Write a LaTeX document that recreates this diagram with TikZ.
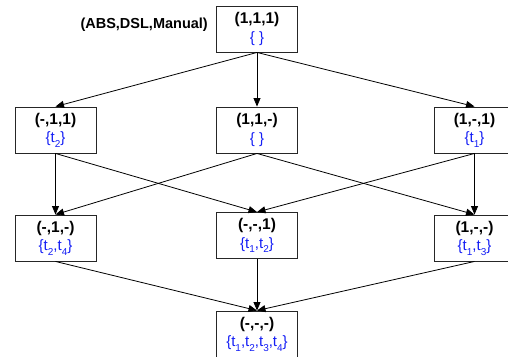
\documentclass[tikz,border=0pt]{standalone}
\usepackage{fontspec}
\setmainfont{Liberation Sans}
\usetikzlibrary{arrows.meta}
\definecolor{setblue}{RGB}{20,30,245}
% lowered small index for the set elements
\newcommand\ix[1]{\raisebox{-4.5pt}{\fontsize{10}{10}\selectfont #1}}
\newcommand\lat[2]{{\fontsize{15.5}{18}\selectfont\bfseries #1}\\{\color{setblue}#2}}
\begin{document}
\begin{tikzpicture}[x=1pt,y=-1pt,
  cell/.style={draw=black!85,line width=0.9pt,minimum width=81pt,minimum height=46pt,
    inner sep=0pt,align=center,font=\fontsize{15}{18.5}\selectfont},
  edge/.style={line width=0.8pt,-{Triangle[length=8.5pt,width=7pt]}}]
\useasboundingbox (0,0) rectangle (508,356);
% lattice cells
\node[cell] (top) at (257,29) {\lat{(1,1,1)}{\{ \}}};
\node[cell] (l2) at (55.5,130) {\lat{(-,1,1)}{\{t\ix{2}\}}};
\node[cell] (m2) at (257,130) {\lat{(1,1,-)}{\{ \}}};
\node[cell] (r2) at (474.5,130) {\lat{(1,-,1)}{\{t\ix{1}\}}};
\node[cell] (l3) at (55.5,238) {\lat{(-,1,-)}{\{t\ix{2},t\ix{4}\}}};
\node[cell] (m3) at (257,235.5) {\lat{(-,-,1)}{\{t\ix{1},t\ix{2}\}}};
\node[cell] (r3) at (474.5,238) {\lat{(1,-,-)}{\{t\ix{1},t\ix{3}\}}};
\node[cell] (bot) at (257,334) {\lat{(-,-,-)}{\{t\ix{1},t\ix{2},t\ix{3},t\ix{4}\}}};
% column header
\node[anchor=base east,font=\fontsize{14.5}{17}\selectfont\bfseries,inner sep=0pt] (hdr) at (208,28) {(ABS,DSL,Manual)};
% order relations
\draw[edge] (top.south) -- (l2.north);
\draw[edge] (top.south) -- (m2.north);
\draw[edge] (top.south) -- (r2.north);
\draw[edge] (l2.south) -- (l3.north);
\draw[edge] (l2.south) -- (m3.north);
\draw[edge] (m2.south) -- (l3.north);
\draw[edge] (m2.south) -- (r3.north);
\draw[edge] (r2.south) -- (m3.north);
\draw[edge] (r2.south) -- (r3.north);
\draw[edge] (l3.south) -- (bot.north);
\draw[edge] (m3.south) -- (bot.north);
\draw[edge] (r3.south) -- (bot.north);
\end{tikzpicture}
\end{document}
